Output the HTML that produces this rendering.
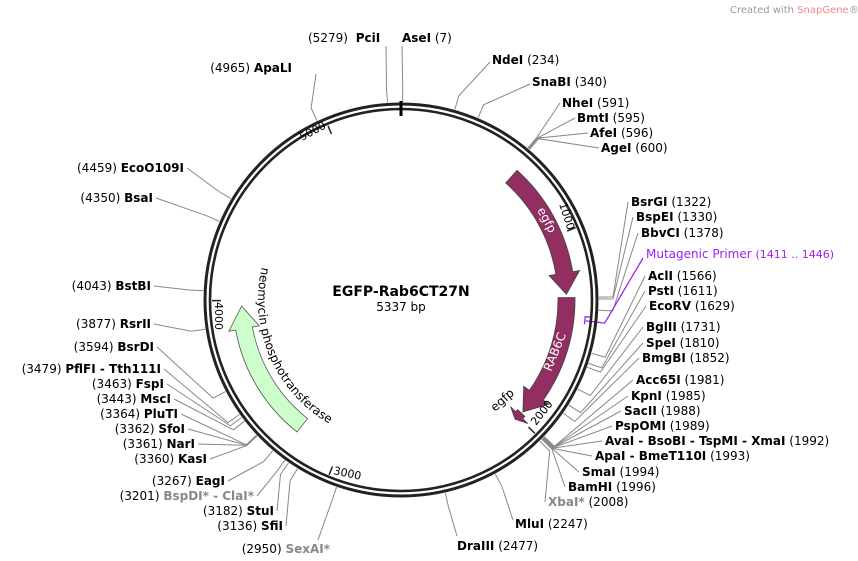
<!DOCTYPE html>
<html><head><meta charset="utf-8"><style>
html,body{margin:0;padding:0;background:#fff}
svg{display:block;font-family:"DejaVu Sans","Liberation Sans",sans-serif;font-size:12px}
.b{font-weight:bold}
.g{fill:#888}
</style></head><body>
<svg id="s" width="858" height="561" viewBox="0 0 858 561" xmlns="http://www.w3.org/2000/svg">
<g id="lines" stroke="#888" stroke-width="1" fill="none"></g>
<g id="feat"></g>
<circle cx="401" cy="300" r="196" fill="none" stroke="#222" stroke-width="3"/>
<circle cx="401" cy="300" r="191" fill="none" stroke="#222" stroke-width="2.6"/>
<line x1="401" y1="101" x2="401" y2="116" stroke="#000" stroke-width="3"/>
<g id="ticks" stroke="#222" stroke-width="1.5"></g>
<g font-size="11" fill="#000">
<text transform="translate(559,204) rotate(72)">1000</text>
<text transform="translate(536,426) rotate(-52)">2000</text>
<text transform="translate(333,474) rotate(12)">3000</text>
<text transform="translate(215,302) rotate(90)">4000</text>
<text transform="translate(302,141) rotate(-28)">5000</text>
</g>
<text x="401" y="296" text-anchor="middle" class="b" font-size="14">EGFP-Rab6CT27N</text>
<text x="401" y="311" text-anchor="middle">5337 bp</text>
<g fill="#fff" font-size="12">
<text transform="translate(537,210) rotate(62)">egfp</text>
<text transform="translate(551,372) rotate(-68)">RAB6C</text>
</g>
<text transform="translate(495,412) rotate(-42)" font-size="12">egfp</text>
<path id="neoPath" d="" fill="none"/>
<text font-size="12"><textPath href="#neoPath">neomycin phosphotransferase</textPath></text>
<text x="730" y="13" font-size="10" fill="#999">Created with <tspan fill="#e88">SnapGene</tspan>®</text>
<g font-size="12">
<text x="308" y="42">(5279) <tspan class="b" dx="4">PciI</tspan></text>
<text x="402" y="42"><tspan class="b">AseI</tspan>  (7)</text>
<text x="492" y="64"><tspan class="b">NdeI</tspan>  (234)</text>
<text x="532" y="86"><tspan class="b">SnaBI</tspan>  (340)</text>
<text x="562" y="107"><tspan class="b">NheI</tspan>  (591)</text>
<text x="577" y="122"><tspan class="b">BmtI</tspan>  (595)</text>
<text x="590" y="137"><tspan class="b">AfeI</tspan>  (596)</text>
<text x="601" y="152"><tspan class="b">AgeI</tspan>  (600)</text>
<text x="631" y="206"><tspan class="b">BsrGI</tspan>  (1322)</text>
<text x="636" y="221"><tspan class="b">BspEI</tspan>  (1330)</text>
<text x="641" y="237"><tspan class="b">BbvCI</tspan>  (1378)</text>
<text x="646" y="258" fill="#a020f0">Mutagenic Primer  <tspan font-size="11">(1411 .. 1446)</tspan></text>
<text x="648" y="280"><tspan class="b">AclI</tspan>  (1566)</text>
<text x="648" y="295"><tspan class="b">PstI</tspan>  (1611)</text>
<text x="649" y="310"><tspan class="b">EcoRV</tspan>  (1629)</text>
<text x="646" y="331"><tspan class="b">BglII</tspan>  (1731)</text>
<text x="646" y="347"><tspan class="b">SpeI</tspan>  (1810)</text>
<text x="642" y="362"><tspan class="b">BmgBI</tspan>  (1852)</text>
<text x="636" y="384"><tspan class="b">Acc65I</tspan>  (1981)</text>
<text x="631" y="400"><tspan class="b">KpnI</tspan>  (1985)</text>
<text x="624" y="415"><tspan class="b">SacII</tspan>  (1988)</text>
<text x="615" y="430"><tspan class="b">PspOMI</tspan>  (1989)</text>
<text x="605" y="445"><tspan class="b">AvaI - BsoBI - TspMI - XmaI</tspan>  (1992)</text>
<text x="595" y="460"><tspan class="b">ApaI - BmeT110I</tspan>  (1993)</text>
<text x="582" y="476"><tspan class="b">SmaI</tspan>  (1994)</text>
<text x="568" y="491"><tspan class="b">BamHI</tspan>  (1996)</text>
<text x="548" y="506"><tspan class="b g">XbaI*</tspan>  (2008)</text>
<text x="515" y="528"><tspan class="b">MluI</tspan>  (2247)</text>
<text x="457" y="550"><tspan class="b">DraIII</tspan>  (2477)</text>
</g>
<g font-size="12" text-anchor="end">
<text x="292" y="72">(4965)  <tspan class="b">ApaLI</tspan></text>
<text x="184" y="172">(4459)  <tspan class="b">EcoO109I</tspan></text>
<text x="153" y="202">(4350)  <tspan class="b">BsaI</tspan></text>
<text x="151" y="290">(4043)  <tspan class="b">BstBI</tspan></text>
<text x="151" y="328">(3877)  <tspan class="b">RsrII</tspan></text>
<text x="154" y="351">(3594)  <tspan class="b">BsrDI</tspan></text>
<text x="161" y="373">(3479)  <tspan class="b">PflFI - Tth111I</tspan></text>
<text x="164" y="388">(3463)  <tspan class="b">FspI</tspan></text>
<text x="171" y="403">(3443)  <tspan class="b">MscI</tspan></text>
<text x="178" y="418">(3364)  <tspan class="b">PluTI</tspan></text>
<text x="185" y="433">(3362)  <tspan class="b">SfoI</tspan></text>
<text x="195" y="448">(3361)  <tspan class="b">NarI</tspan></text>
<text x="207" y="463">(3360)  <tspan class="b">KasI</tspan></text>
<text x="225" y="485">(3267)  <tspan class="b">EagI</tspan></text>
<text x="254" y="500">(3201)  <tspan class="b g">BspDI* - ClaI*</tspan></text>
<text x="274" y="515">(3182)  <tspan class="b">StuI</tspan></text>
<text x="283" y="530">(3136)  <tspan class="b">SfiI</tspan></text>
<text x="330" y="553">(2950)  <tspan class="b g">SexAI*</tspan></text>
</g>
</svg>
<script>
var cx=401,cy=300,N=5337,NS="http://www.w3.org/2000/svg";
function pt(bp,r){var a=bp/N*2*Math.PI;return [cx+r*Math.sin(a),cy-r*Math.cos(a)];}
function el(p,tag,at){var e=document.createElementNS(NS,tag);for(var k in at)e.setAttribute(k,at[k]);p.appendChild(e);return e;}
function f(p){return p[0].toFixed(1)+","+p[1].toFixed(1);}
var L=document.getElementById("lines");
var R=[[7,402,46],[234,490,62],[340,530,84],[591,560,103],[595,575,118],[596,588,133],[600,599,148],
[1322,628,202],[1330,633,217],[1378,638,233],[1566,645,276],[1611,645,291],[1629,646,306],[1731,643,327],[1810,643,343],[1852,639,358],
[1981,633,380],[1985,628,396],[1988,621,411],[1989,612,426],[1992,602,441],[1993,592,456],[1994,579,472],[1996,565,487],[2008,545,502],[2247,513,520],[2477,457,536],
[5279,386,46],[4965,316,74],[4459,187,168],[4350,156,198],[4043,154,286],[3877,154,324],[3594,157,347],[3479,164,369],[3463,167,384],[3443,174,399],[3364,181,414],[3362,188,429],[3361,198,444],[3360,210,459],[3267,228,481],[3201,257,496],[3182,277,511],[3136,286,526],[2950,318,540]];
R.forEach(function(r){var a=pt(r[0],198),b=pt(r[0],212);el(L,"path",{d:"M"+f(a)+"L"+f(b)+"L"+r[1]+","+r[2]});});
var mp=document.getElementById("feat");
var m1=pt(1411,185),m2=pt(1446,185);
el(mp,"path",{d:"M"+f(pt(1411,191))+"L"+f(m1)+"A185,185 0 0 1 "+f(m2)+"M"+f(pt(1430,186))+"L"+f(pt(1430,205))+"L643,258",stroke:"#a020f0","stroke-width":1.3,fill:"none"});
var T=document.getElementById("ticks");
[1000,2000,3000,4000,5000].forEach(function(b){el(T,"path",{d:"M"+f(pt(b,189))+"L"+f(pt(b,180))});});
function arrow(b1,b2,r1,r2,head,fill,stroke){
 var rm=(r1+r2)/2,w=7,bh=b2-head;
 var d="M"+f(pt(b1,r2))+"A"+r2+","+r2+" 0 0 1 "+f(pt(bh,r2))+"L"+f(pt(bh,r2+w))+"L"+f(pt(b2,rm))+"L"+f(pt(bh,r1-w))+"L"+f(pt(bh,r1))+"A"+r1+","+r1+" 0 0 0 "+f(pt(b1,r1))+"Z";
 el(mp,"path",{d:d,fill:fill,stroke:stroke,"stroke-width":0.8});
}
arrow(620,1305,157,174,110,"#922e62","#444");
arrow(1322,1965,157,174,110,"#922e62","#444");
arrow(1975,2020,160,170,30,"#922e62","#444");
arrow(3235,3970,151,168,120,"#ccffcc","#555");
var np=document.getElementById("neoPath");
var s=pt(4200,143),e=pt(2950,143);
np.setAttribute("d","M"+f(s)+"A143,143 0 0 0 "+f(e));
</script>
</body></html>
